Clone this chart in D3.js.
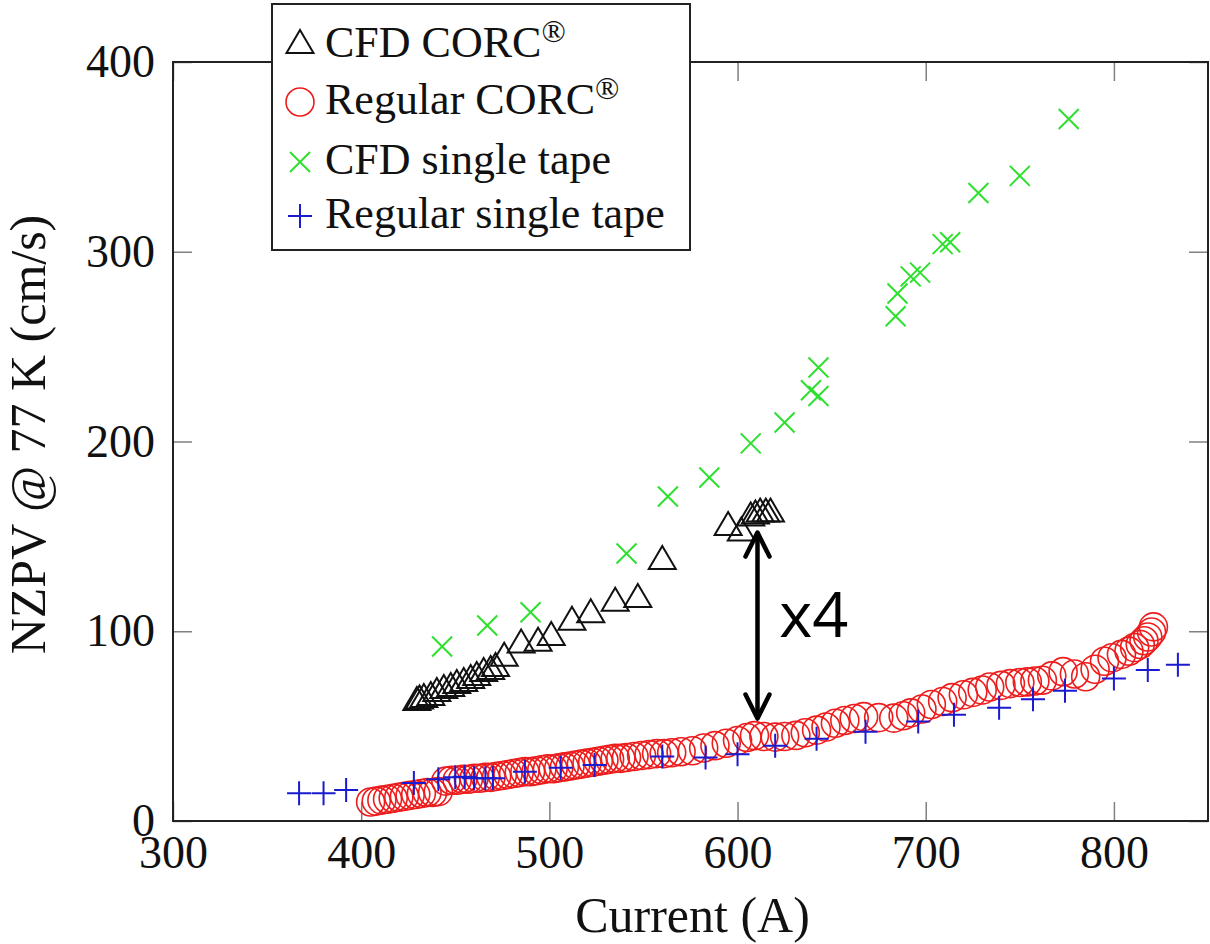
<!DOCTYPE html>
<html lang="en">
<head>
  <meta charset="UTF-8">
  <title>NZPV vs current</title>
  <style>
    body { margin: 0; background: #fff; }
    svg text { font-family: "Liberation Serif", "DejaVu Serif", "Noto Serif", serif; fill: #111; }
  </style>
</head>
<body>
  <div id="svg"></div>
<script src="https://cdn.jsdelivr.net/npm/d3@7"></script>
<script type="text/javascript">
  // 读图得到的数据 (Current A, NZPV cm/s)
  const cfdCorcI = [429.6, 431, 433.3, 437, 440.2, 443.9, 447.6, 450.8, 454.5, 458.2, 461.4, 465.1, 468.8, 471.4,
    476, 485, 494, 501, 512, 522, 535, 547, 560, 595, 602, 607, 609.5, 612, 615, 617.5]
  const cfdCorcV = [62.7, 63.5, 64.3, 65.3, 67.5, 69, 70.1, 71.7, 72.7, 74.3, 75.9, 78, 79, 80.6,
    86, 93, 94, 97, 105, 109, 115, 117, 137, 155, 152, 160, 161, 162, 162, 162]

  const regCorcI = [405, 408, 411, 414, 417, 420, 423, 426, 429, 432, 435, 438, 441, 445, 448, 451, 454, 457, 460,
    463, 466, 469, 472, 475, 478, 481, 484, 487, 490, 493, 496, 499, 502, 505, 508, 511, 514, 517, 520, 523, 526,
    529, 532, 535, 538, 541, 545, 549, 553, 557, 561, 565, 570, 576, 582, 588, 594, 600, 605, 609, 614, 620, 625,
    631, 636, 642, 647, 652, 657, 662, 667, 675, 683, 688, 692, 698, 703, 709, 714, 720, 725, 730, 734, 740, 745,
    750, 754, 758, 762, 767, 773, 779, 785, 790, 795, 799, 804, 808, 811, 814, 816, 818, 820, 821]
  const regCorcV = [10, 10.5, 11, 11.5, 12, 12.5, 13, 13.5, 14, 14.5, 15, 15, 15.5, 21, 21.5, 21.5, 22, 22, 22.5,
    22.5, 23, 23, 23.5, 24, 24.5, 25, 25.5, 26, 26, 26.5, 27, 27.5, 27.5, 28, 28.5, 29, 29.5, 30, 30.5, 31, 31.5,
    32, 32.5, 33, 33, 33.5, 34, 34.5, 35, 35.5, 35.5, 36, 36.5, 37, 38.5, 39.7, 41, 42.4, 44, 45, 44.5, 44.2, 44.5,
    45.1, 46.5, 47.9, 49.5, 51.5, 53, 54, 55, 54.5, 54.2, 55.5, 57, 59, 61.4, 63, 65, 66.5, 67.8, 69, 70.6, 71.5, 72.4,
    73, 73.3, 73.8, 74.2, 76.5, 78.7, 77.5, 76, 80, 84.2, 86, 87.8, 89.5, 91.4, 93, 95, 97, 99.6, 102.3]

  const cfdTapeI = [443, 467, 490, 541, 563, 585, 607, 625, 639, 643, 643, 684, 685, 692, 697, 709, 713, 728, 750, 776]
  const cfdTapeV = [92, 103, 110, 141, 171, 181, 199, 210, 227, 224, 239, 266, 278, 287, 289, 304, 305, 331, 340, 370]

  const regTapeI = [367, 380, 392, 428, 441, 450, 455, 460, 466, 470, 487, 506, 524, 560, 583, 600, 620, 642, 668,
    696, 715, 739, 757, 774, 800, 818, 834]
  const regTapeV = [14.6, 14.6, 16.3, 20, 22, 23, 23.3, 22.5, 22.5, 22.5, 26, 28, 29.5, 34, 33.4, 35.2, 39.7, 43.3, 47,
    52.4, 56, 59.7, 64.2, 68.7, 75.1, 79.6, 82.3]

  const xTicks = [300, 400, 500, 600, 700, 800]
  const yTicks = [0, 100, 200, 300, 400]
  const legendLabels = ["CFD CORC", "Regular CORC", "CFD single tape", "Regular single tape"]

  const serif = "'Liberation Serif', 'DejaVu Serif', 'Noto Serif', serif"

  // 画布
  const width = 1210
  const height = 944
  const svg = d3.select("#svg").append("svg").attr("width", width).attr("height", height)
    .attr("font-family", serif)
  svg.append("rect").attr("width", width).attr("height", height).attr("fill", "#fff")

  const plot = {left: 173, right: 1208, top: 62, bottom: 821}
  const xScale = d3.scaleLinear().domain([300, 850]).range([plot.left, plot.right])
  const yScale = d3.scaleLinear().domain([0, 400]).range([plot.bottom, plot.top])

  const tickLen = 19
  const styleAxis = (g) => {
    g.attr("font-family", serif)
    g.select(".domain").remove()
    g.selectAll(".tick line").attr("stroke", "#808080").attr("stroke-width", 1.5)
    g.selectAll(".tick text").attr("font-size", "46px").attr("fill", "#111").style("font-family", serif)
  }

  // 四边的刻度（向内）
  svg.append("g").attr("transform", `translate(0,${plot.bottom})`)
    .call(d3.axisBottom(xScale).tickValues(xTicks).tickSize(-tickLen).tickPadding(14)).call(styleAxis)
  svg.append("g").attr("transform", `translate(0,${plot.top})`)
    .call(d3.axisTop(xScale).tickValues(xTicks).tickSize(-tickLen).tickFormat("")).call(styleAxis)
  svg.append("g").attr("transform", `translate(${plot.left},0)`)
    .call(d3.axisLeft(yScale).tickValues(yTicks).tickSize(-tickLen).tickPadding(18)).call(styleAxis)
  svg.append("g").attr("transform", `translate(${plot.right},0)`)
    .call(d3.axisRight(yScale).tickValues(yTicks).tickSize(-tickLen).tickFormat("")).call(styleAxis)

  // 边框
  svg.append("rect").attr("x", plot.left).attr("y", plot.top)
    .attr("width", plot.right - plot.left).attr("height", plot.bottom - plot.top)
    .attr("fill", "none").attr("stroke", "#222").attr("stroke-width", 2)

  // 坐标轴标题
  svg.append("text").attr("x", (plot.left + plot.right) / 2 + 2).attr("y", 932)
    .attr("text-anchor", "middle").attr("font-size", "50px").style("font-family", serif).text("Current (A)")
  svg.append("text").attr("transform", `translate(45,${(plot.top + plot.bottom) / 2 - 7}) rotate(-90)`)
    .attr("text-anchor", "middle").attr("font-size", "50px").style("font-family", serif).text("NZPV @ 77 K (cm/s)")

  // 标记形状
  const triPath = "M0,-15 L13.5,8 L-13.5,8 Z"
  const crossPath = "M-10,-10 L10,10 M-10,10 L10,-10"
  const plusPath = "M-12,0 L12,0 M0,-12 L0,12"

  const zip = (a, b) => a.map((d, i) => [d, b[i]])

  const drawSeries = (xs, ys, draw) => {
    const g = svg.append("g")
    draw(g.selectAll("g").data(zip(xs, ys)).enter().append("g")
      .attr("transform", d => `translate(${xScale(d[0])},${yScale(d[1])})`))
  }

  const drawTri = (s) => s.append("path").attr("d", triPath).attr("fill", "none")
    .attr("stroke", "#111").attr("stroke-width", 2).attr("stroke-linejoin", "miter")
  const drawCircle = (s) => s.append("circle").attr("r", 14).attr("fill", "none")
    .attr("stroke", "#ee1c1c").attr("stroke-width", 1.6)
  const drawCross = (s) => s.append("path").attr("d", crossPath).attr("fill", "none")
    .attr("stroke", "#2ee02e").attr("stroke-width", 2)
  const drawPlus = (s) => s.append("path").attr("d", plusPath).attr("fill", "none")
    .attr("stroke", "#1a1ad0").attr("stroke-width", 2)

  drawSeries(cfdCorcI, cfdCorcV, drawTri)
  drawSeries(regCorcI, regCorcV, drawCircle)
  drawSeries(cfdTapeI, cfdTapeV, drawCross)
  drawSeries(regTapeI, regTapeV, drawPlus)

  // 双向箭头 + "x4"
  const ax = xScale(610.6)
  const aTop = yScale(152)
  const aBot = yScale(54)
  const arrow = svg.append("g").attr("stroke", "#000").attr("stroke-width", 4.5).attr("fill", "none")
    .attr("stroke-linecap", "round").attr("stroke-linejoin", "round")
  arrow.append("path").attr("d", `M${ax},${aTop + 2} L${ax},${aBot - 2}`)
  arrow.append("path").attr("d", `M${ax - 12},${aTop + 24} L${ax},${aTop} L${ax + 12},${aTop + 24}`)
  arrow.append("path").attr("d", `M${ax - 12},${aBot - 24} L${ax},${aBot} L${ax + 12},${aBot - 24}`)
  svg.append("text").attr("x", xScale(622.2)).attr("y", yScale(97))
    .style("font-family", "'Open Sans', 'DejaVu Sans', sans-serif")
    .attr("font-size", "63px").style("fill", "#000").text("x4")

  // 图例
  const legend = svg.append("g")
  legend.append("rect").attr("x", 272).attr("y", 4).attr("width", 418).attr("height", 246)
    .attr("fill", "#fff").attr("stroke", "#222").attr("stroke-width", 2)
  const rowY = [45, 102, 162, 216]
  const legendDraw = [drawTri, drawCircle, drawCross, drawPlus]
  legendLabels.forEach((label, i) => {
    const row = legend.append("g").attr("transform", `translate(300,${rowY[i]})`)
    legendDraw[i](row)
    const t = row.append("text").attr("x", 25).attr("y", 12).attr("font-size", "44px")
      .style("font-family", serif).text(label)
    if (i < 2) {
      t.append("tspan").attr("dy", -15).attr("font-size", "32px").text("®")
    }
  })
</script>
</body>
</html>
